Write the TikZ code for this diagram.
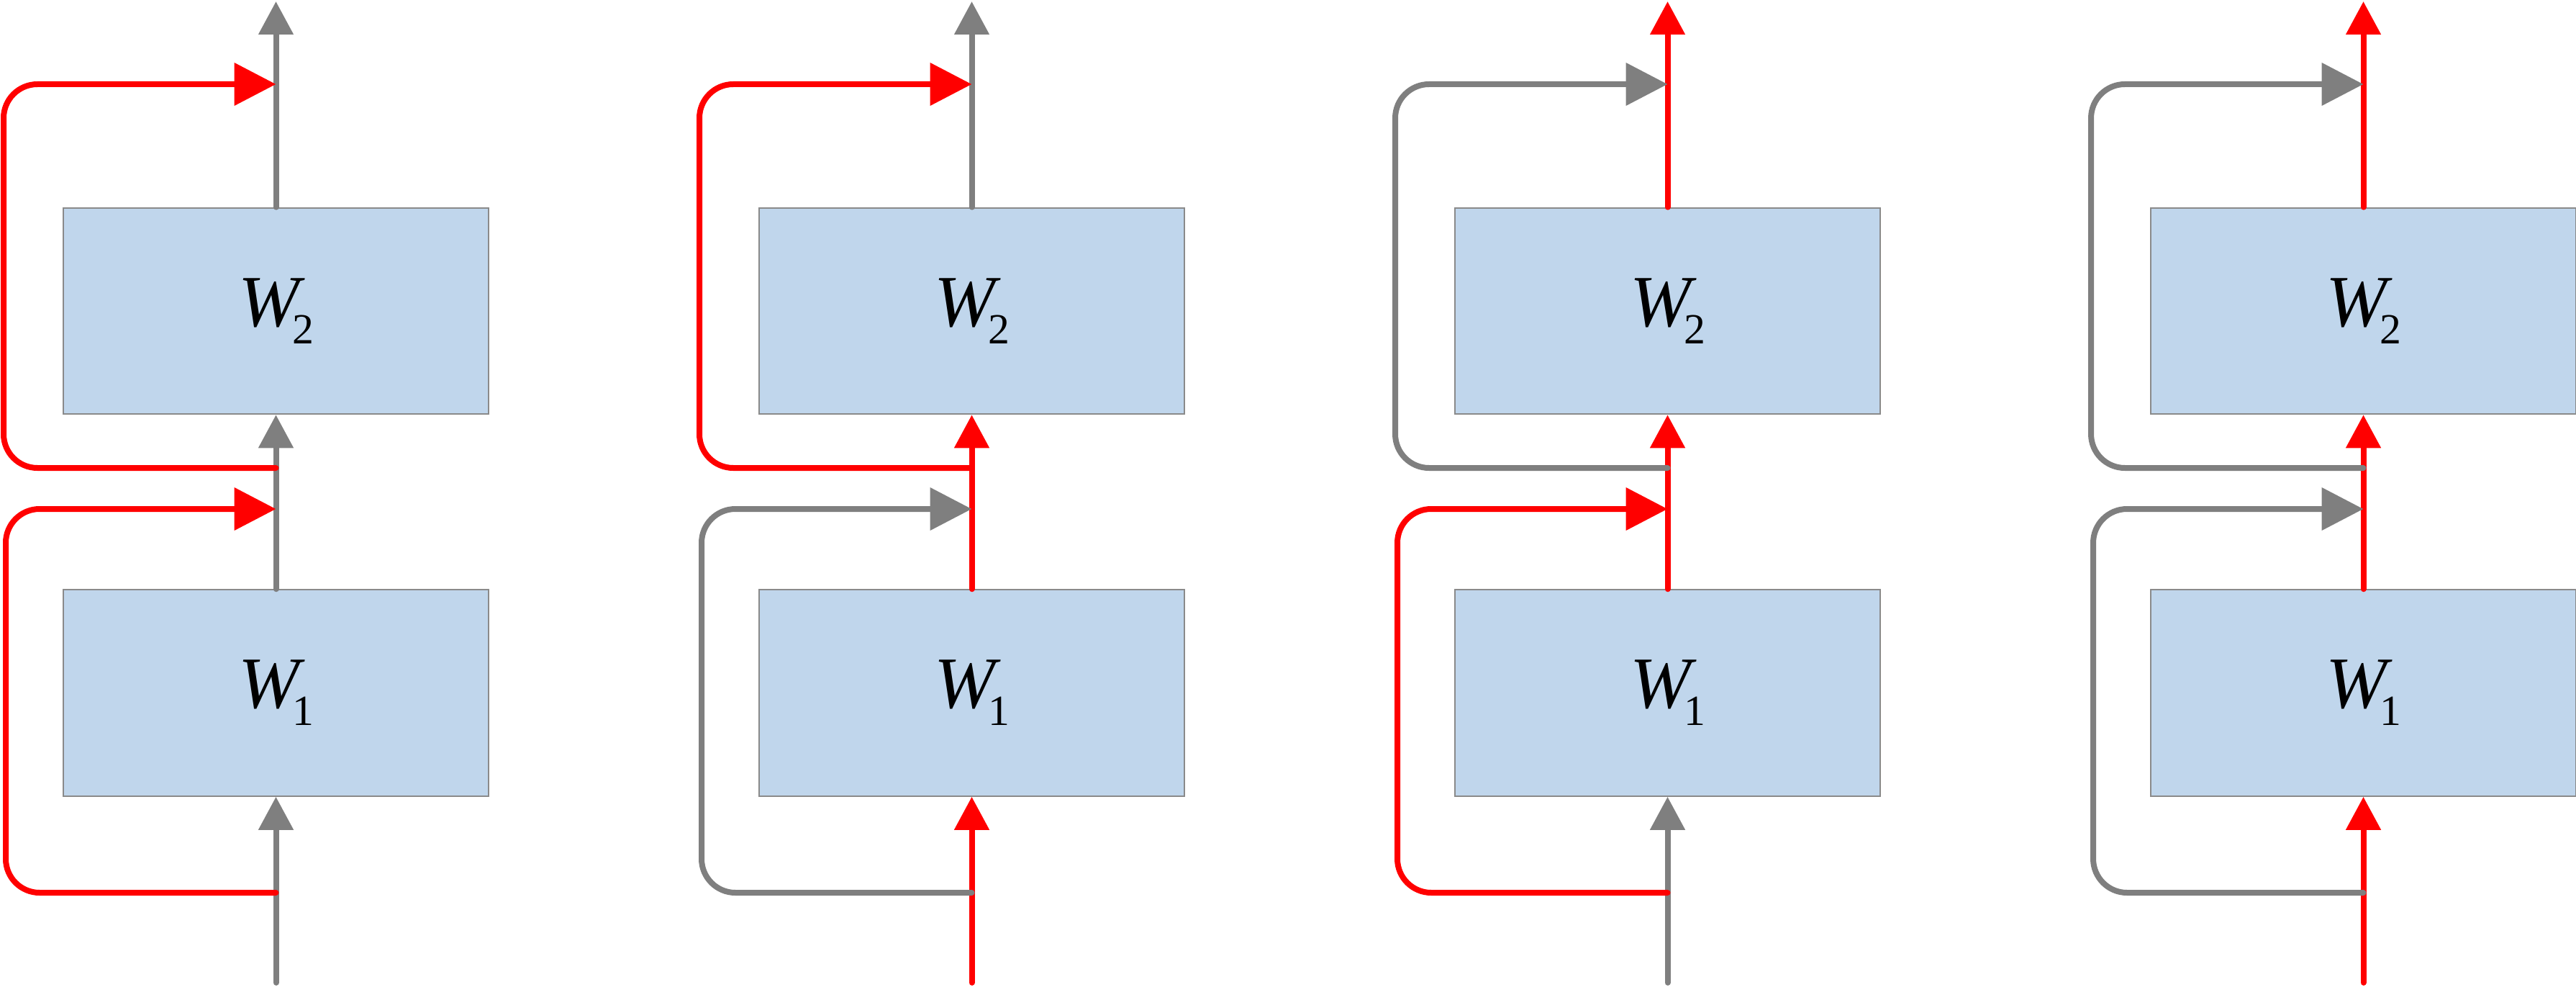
\documentclass[tikz,border=0pt]{standalone}
\usepackage{fontspec}
\setmainfont{Liberation Serif}
\usetikzlibrary{arrows.meta}
\definecolor{lgray}{HTML}{7F7F7F}
\definecolor{lred}{HTML}{FF0000}
\definecolor{boxfill}{HTML}{C0D6EC}
\definecolor{boxline}{HTML}{8A8A8A}
\newcommand\wlabel[1]{\fontsize{29}{30}\selectfont\itshape W\kern-0.1cm\raisebox{-0.24cm}{\upshape\fontsize{17}{18}\selectfont #1}}
\tikzset{
  wbox/.style={draw=boxline, line width=0.02cm, fill=boxfill, minimum width=5.91cm, minimum height=2.865cm, inner sep=0pt},
  flow/.style={line width=0.08cm, line cap=round, -{Triangle[length=0.46cm,width=0.47cm]}},
  skip/.style={line width=0.08cm, line cap=round, rounded corners=0.47cm, -{Triangle[length=0.58cm,width=0.58cm]}}
}
\begin{document}
\begin{tikzpicture}
\useasboundingbox (0,0) rectangle (35.80,13.70);
\foreach \k/\ci/\cm/\co/\cl/\cu in {0/lgray/lgray/lgray/lred/lred, 1/lred/lred/lgray/lgray/lred, 2/lgray/lred/lred/lred/lgray, 3/lred/lred/lred/lgray/lgray}{
  \pgfmathsetmacro{\dx}{9.67*\k}
  \pgfmathsetmacro{\cx}{3.835+\dx}
  \node[wbox] (w1\k) at (\cx,4.075) {\wlabel{1}};
  \node[wbox] (w2\k) at (\cx,9.38) {\wlabel{2}};
  \coordinate (in\k) at (\cx,0.05);
  \coordinate (out\k) at (\cx,13.68);
  \coordinate (ls\k) at (\cx,1.30);
  \coordinate (le\k) at (\cx,6.63);
  \coordinate (us\k) at (\cx,7.20);
  \coordinate (ue\k) at (\cx,12.53);
  % main path
  \draw[flow, draw=\ci] (in\k) -- (w1\k.south);
  \draw[flow, draw=\cm] (w1\k.north) -- (w2\k.south);
  \draw[flow, draw=\co] (w2\k.north) -- (out\k);
  % skip connections
  \draw[skip, draw=\cl] (ls\k) -- (0.08+\dx,1.30) -- (0.08+\dx,6.63) -- (le\k);
  \draw[skip, draw=\cu] (us\k) -- (0.05+\dx,7.20) -- (0.05+\dx,12.53) -- (ue\k);
}
\end{tikzpicture}
\end{document}
